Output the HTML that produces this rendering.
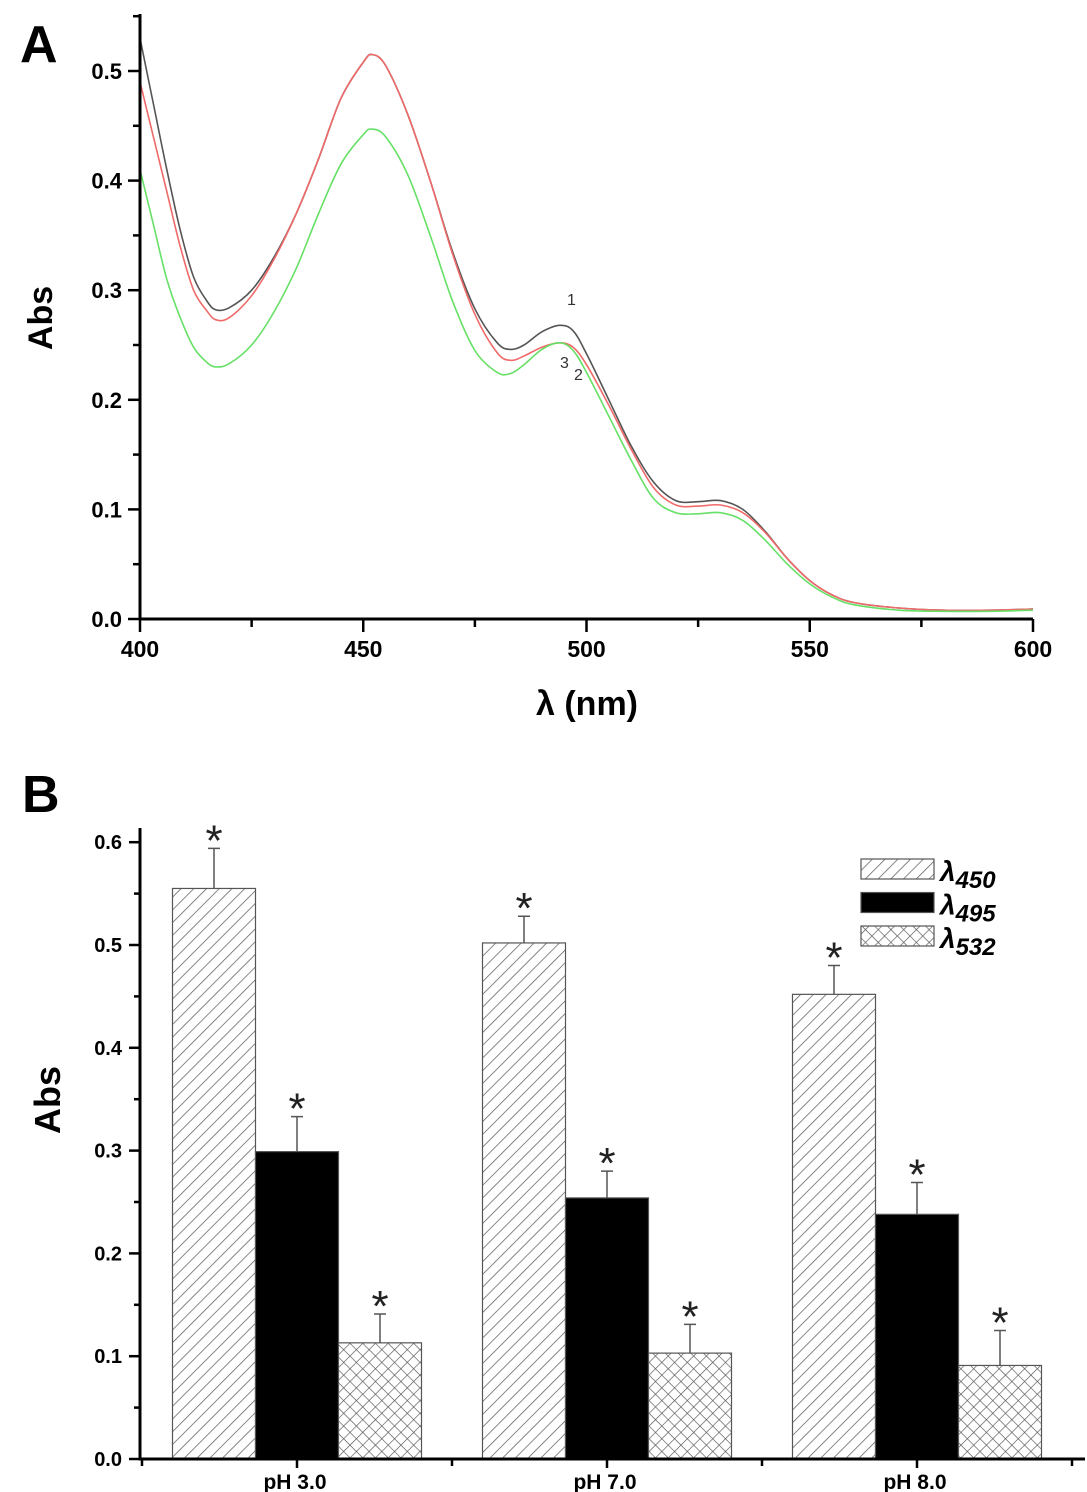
<!DOCTYPE html>
<html><head><meta charset="utf-8"><style>
body{margin:0;background:#fff}
svg{display:block;font-family:"Liberation Sans",Arial,sans-serif}
</style></head><body>
<svg id="fig" width="1087" height="1492" viewBox="0 0 1087 1492">
<defs>
<pattern id="diag" patternUnits="userSpaceOnUse" width="9" height="9" patternTransform="rotate(45)">
<rect width="9" height="9" fill="#fff"/><line x1="0" y1="0" x2="0" y2="9" stroke="#555" stroke-width="1.4"/></pattern>
<pattern id="cross" patternUnits="userSpaceOnUse" width="9" height="9" patternTransform="rotate(45)">
<rect width="9" height="9" fill="#fff"/><line x1="0" y1="0" x2="0" y2="9" stroke="#555" stroke-width="1.3"/><line x1="0" y1="0" x2="9" y2="0" stroke="#555" stroke-width="1.3"/></pattern>
</defs>
<g id="panelA"></g>
<g id="panelB"></g>
</svg>
<script>
// ---- Panel A data ----
const wavelengths=[400,403,406,409,412,415,417,420,425,430,435,440,445,450,452,455,460,465,470,475,480,483,486,490,494,497,500,505,510,515,520,525,530,535,540,545,550,555,560,570,580,590,600];
const abs1=[0.53,0.47,0.41,0.355,0.312,0.29,0.282,0.284,0.30,0.33,0.37,0.42,0.475,0.508,0.515,0.505,0.46,0.40,0.335,0.283,0.252,0.246,0.25,0.262,0.268,0.263,0.242,0.20,0.158,0.125,0.108,0.107,0.108,0.10,0.08,0.055,0.035,0.022,0.015,0.01,0.008,0.008,0.009];
const abs2=[0.49,0.44,0.39,0.34,0.30,0.281,0.273,0.275,0.295,0.328,0.37,0.42,0.475,0.508,0.515,0.505,0.46,0.40,0.333,0.278,0.243,0.236,0.24,0.248,0.252,0.248,0.232,0.195,0.155,0.12,0.104,0.103,0.104,0.097,0.079,0.055,0.035,0.022,0.015,0.01,0.008,0.008,0.009];
const abs3=[0.41,0.36,0.31,0.275,0.248,0.234,0.23,0.233,0.25,0.28,0.32,0.37,0.415,0.442,0.447,0.44,0.405,0.35,0.29,0.245,0.225,0.224,0.232,0.246,0.252,0.245,0.225,0.185,0.145,0.11,0.097,0.096,0.097,0.09,0.072,0.05,0.032,0.02,0.013,0.008,0.007,0.007,0.008];
const seriesColors=["#555555","#f06a6a","#66e066"];
const yTicksA=[0.0,0.1,0.2,0.3,0.4,0.5];
const xTicksA=[400,450,500,550,600];
// ---- Panel B data ----
const groups=["pH 3.0","pH 7.0","pH 8.0"];
const v450=[0.555,0.502,0.452];
const e450=[0.039,0.026,0.028];
const v495=[0.299,0.254,0.238];
const e495=[0.034,0.026,0.031];
const v532=[0.113,0.103,0.091];
const e532=[0.028,0.028,0.034];
const yTicksB=[0.0,0.1,0.2,0.3,0.4,0.5,0.6];

const NS="http://www.w3.org/2000/svg";
function mk(tag,attrs,parent,text){const e=document.createElementNS(NS,tag);for(const k in attrs)e.setAttribute(k,attrs[k]);if(text!==undefined)e.textContent=text;parent.appendChild(e);return e;}
function smooth(pts){let d='M'+pts[0][0].toFixed(1)+','+pts[0][1].toFixed(1);
 for(let i=0;i<pts.length-1;i++){const p0=pts[Math.max(0,i-1)],p1=pts[i],p2=pts[i+1],p3=pts[Math.min(pts.length-1,i+2)];
  const c1=[p1[0]+(p2[0]-p0[0])/6,p1[1]+(p2[1]-p0[1])/6],c2=[p2[0]-(p3[0]-p1[0])/6,p2[1]-(p3[1]-p1[1])/6];
  d+=`C${c1[0].toFixed(1)},${c1[1].toFixed(1)} ${c2[0].toFixed(1)},${c2[1].toFixed(1)} ${p2[0].toFixed(1)},${p2[1].toFixed(1)}`;}
 return d;}

// Panel A
const A=document.getElementById('panelA');
const xA=v=>140+(v-400)*(1033-140)/200;
const yA=v=>619-v*1096;
let t=mk('text',{x:20,y:62,'font-size':52,'font-weight':'bold'},A,'A');


[abs1,abs2,abs3].forEach((s,i)=>{
 const p=mk('path',{d:smooth(s.map((v,j)=>[xA(wavelengths[j]),yA(v)])),fill:'none',stroke:seriesColors[i],'stroke-width':1.6},A);
 
 
});
let ax=mk('path',{d:`M140,14V619H1033`,fill:'none',stroke:'#000','stroke-width':3},A);


for(let v=0;v<=0.55;v+=0.05){const y=yA(v);mk('line',{x1:140,x2:Math.abs(v*10-Math.round(v*10))<0.01?128:133,y1:y,y2:y,stroke:'#000','stroke-width':2.5},A);}
yTicksA.forEach(v=>{const l=mk('text',{x:122,y:yA(v)+8,'font-size':22,'font-weight':'bold','text-anchor':'end'},A,v.toFixed(1));
 
 });
for(let w=400;w<=600;w+=25){const x=xA(w);mk('line',{x1:x,x2:x,y1:619,y2:w%50==0?632:627,stroke:'#000','stroke-width':2.5},A);}
xTicksA.forEach(v=>{const l=mk('text',{x:xA(v),y:657,'font-size':23,'font-weight':'bold','text-anchor':'middle'},A,v);
 
 });
t=mk('text',{x:0,y:0,'font-size':34,'font-weight':'bold','text-anchor':'middle',transform:'translate(52,318) rotate(-90)'},A,'Abs');


t=mk('text',{x:587,y:715,'font-size':34,'font-weight':'bold','text-anchor':'middle'},A,'λ (nm)');


[['1',567,305],['3',560,368],['2',574,380]].forEach(a=>{const l=mk('text',{x:a[1],y:a[2],'font-size':16,fill:'#333'},A,a[0]);
 
 });

// Panel B
const B=document.getElementById('panelB');
const yB=v=>1459-v*1028;
const gx=i=>297+i*310;
const bw=83;
t=mk('text',{x:22,y:812,'font-size':52,'font-weight':'bold'},B,'B');


const sets=[[v450,e450,'url(#diag)','450'],[v495,e495,'#000','495'],[v532,e532,'url(#cross)','532']];
groups.forEach((g,i)=>{
 sets.forEach((s,k)=>{
  const x=gx(i)-bw*1.5+k*bw, v=s[0][i], e=s[1][i];
  const r=mk('rect',{x:x,y:yB(v),width:bw,height:yB(0)-yB(v),fill:s[2],stroke:'#555','stroke-width':1.2},B);
  
  
  const cx=x+bw/2;
  const eb=mk('path',{d:`M${cx},${yB(v)}V${yB(v+e)}M${cx-6},${yB(v+e)}H${cx+6}`,stroke:'#555','stroke-width':1.5,fill:'none'},B);
  
  
  const st=mk('text',{x:cx,y:yB(v+e)+7,'font-size':44,'text-anchor':'middle',fill:'#222'},B,'*');
  
  
 });
 const l=mk('text',{x:gx(i)-2,y:1489,'font-size':21,'font-weight':'bold','text-anchor':'middle'},B,g);
 
 
});
ax=mk('path',{d:`M140,828V1459H1085`,fill:'none',stroke:'#000','stroke-width':3},B);


for(let v=0;v<=0.6001;v+=0.05){const y=yB(v);mk('line',{x1:140,x2:Math.abs(v*10-Math.round(v*10))<0.01?129:134,y1:y,y2:y,stroke:'#000','stroke-width':2.5},B);}
yTicksB.forEach(v=>{const l=mk('text',{x:122,y:yB(v)+7,'font-size':20,'font-weight':'bold','text-anchor':'end'},B,v.toFixed(1));
 
 });
[142,297,452,607,762,917,1072].forEach((x,j)=>mk('line',{x1:x,x2:x,y1:1459,y2:j%2?1468:1466,stroke:'#000','stroke-width':2.5},B));
t=mk('text',{x:0,y:0,'font-size':36,'font-weight':'bold','text-anchor':'middle',transform:'translate(60,1100) rotate(-90)'},B,'Abs');


sets.forEach((s,k)=>{
 const y=859+k*33.5;
 const r=mk('rect',{x:861,y:y,width:73,height:20,fill:s[2],stroke:'#555','stroke-width':1.2},B);
 
 
 const tx=mk('text',{x:940,y:y+22,'font-size':28,'font-weight':'bold','font-style':'italic'},B);
 
 
 mk('tspan',{},tx,'λ');
 mk('tspan',{dy:7,'font-size':24},tx,s[3]);
});
</script>
</body></html>
